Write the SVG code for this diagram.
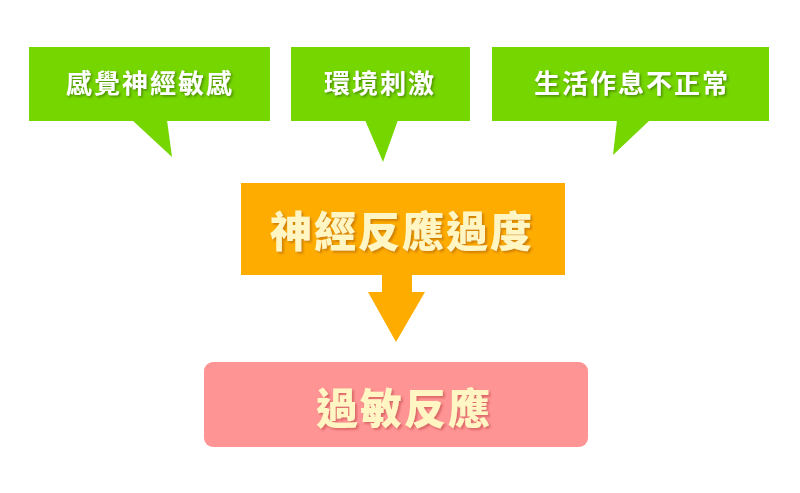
<svg xmlns="http://www.w3.org/2000/svg" width="800" height="493" viewBox="0 0 800 493">
<defs>
<filter id="sg" x="-10%" y="-20%" width="120%" height="150%"><feDropShadow dx="1.5" dy="1.5" stdDeviation="0.8" flood-color="#2f5a00" flood-opacity="0.6"/></filter>
<filter id="so" x="-10%" y="-20%" width="120%" height="150%"><feDropShadow dx="2" dy="2" stdDeviation="0.8" flood-color="#C47600" flood-opacity="0.8"/></filter>
<filter id="sp" x="-10%" y="-20%" width="120%" height="150%"><feDropShadow dx="2" dy="2" stdDeviation="0.8" flood-color="#D45C5C" flood-opacity="0.8"/></filter>
</defs>
<style>
.green{fill:#76D600}
.gt{font-family:"Noto Sans CJK TC","Noto Sans CJK SC",sans-serif;font-size:26px;font-weight:bold;letter-spacing:2px;text-anchor:middle;fill:#ffffff;filter:url(#sg)}
.big{font-family:"Noto Sans CJK TC","Noto Sans CJK SC",sans-serif;font-size:42px;font-weight:900;letter-spacing:2px;text-anchor:middle;fill:#FFF6C4}
</style>
<rect width="800" height="493" fill="#ffffff"/>
<g id="node-sensory">
<rect class="green" x="29" y="47" width="241" height="74"/>
<polygon class="green" points="132,120 167,120 172,157"/>
<text class="gt" x="150" y="93">感覺神經敏感</text>
</g>
<g id="node-environment">
<rect class="green" x="291" y="47" width="179" height="74"/>
<polygon class="green" points="365,120 398,120 383,162"/>
<text class="gt" x="380" y="93">環境刺激</text>
</g>
<g id="node-lifestyle">
<rect class="green" x="492" y="47" width="277" height="74"/>
<polygon class="green" points="617,120 650,120 613,155"/>
<text class="gt" x="632" y="93">生活作息不正常</text>
</g>
<g id="node-overreaction">
<rect x="241" y="183" width="324" height="92" fill="#FFAC00"/>
<text class="big" x="402" y="247" filter="url(#so)">神經反應過度</text>
</g>
<g id="connectors">
<polygon points="382,274 412,274 412,292 425,292 396,342 368,292 382,292" fill="#FFAC00"/>
</g>
<g id="node-allergy">
<rect x="204" y="362" width="384" height="85" rx="9" fill="#FF9494"/>
<text class="big" x="404" y="424" filter="url(#sp)">過敏反應</text>
</g>
</svg>
